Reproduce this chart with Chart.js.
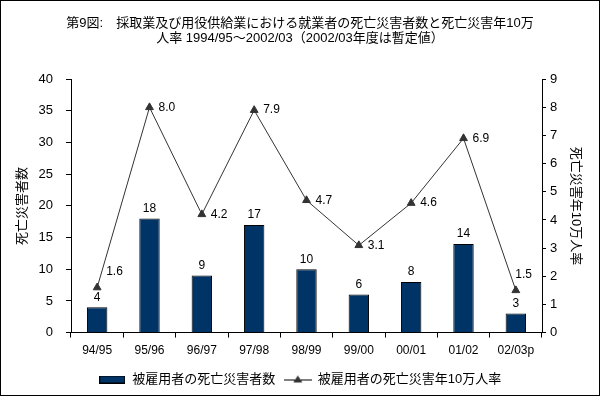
<!DOCTYPE html>
<html>
<head>
<meta charset="utf-8">
<script src="https://cdn.jsdelivr.net/npm/chart.js@4"></script>
<style>
html,body{margin:0;padding:0;background:#fff}
#wrap{width:600px;height:396px}
</style>
</head>
<body>
<div id="wrap"><canvas id="myChart" width="600" height="396"></canvas></div>
<script>
var nendo = ['94/95','95/96','96/97','97/98','98/99','99/00','00/01','01/02','02/03p']
var shibousha = [4,18,9,17,10,6,8,14,3]
var ritsu = [1.6,8.0,4.2,7.9,4.7,3.1,4.6,6.9,1.5]
var titleLines = ['第9図:　採取業及び用役供給業における就業者の死亡災害者数と死亡災害年10万','人率 1994/95～2002/03（2002/03年度は暫定値）']
var fnt = '"Liberation Sans", "Noto Sans CJK JP", sans-serif'

function mkBox(){
    var c = document.createElement('canvas')
    c.width = 26; c.height = 8
    var g = c.getContext('2d')
    g.fillStyle = '#000'
    g.fillRect(0,0,26,8)
    g.fillStyle = '#003366'
    g.fillRect(1,1,24,6)
    return c
}
function mkTri(){
    var c = document.createElement('canvas')
    c.width = 28; c.height = 10
    var g = c.getContext('2d')
    g.strokeStyle = '#000'
    g.lineWidth = 1
    g.beginPath(); g.moveTo(0,5.5); g.lineTo(28,5.5); g.stroke()
    g.fillStyle = '#333'
    g.beginPath(); g.moveTo(14,1); g.lineTo(18.5,8); g.lineTo(9.5,8); g.closePath(); g.fill()
    return c
}
var boxImg = mkBox()
var triImg = mkTri()

// ラベル: 棒の上に件数、折れ線の点の右に率
var etiketa = {
    id:'etiketa',
    afterDatasetsDraw: function(chart){
        var ctx = chart.ctx
        var area = chart.chartArea
        ctx.save()
        ctx.font = '12px ' + fnt
        ctx.fillStyle = '#000'
        ctx.textBaseline = 'middle'
        var bars = chart.getDatasetMeta(0).data
        var pts = chart.getDatasetMeta(1).data
        for(var i=0;i<bars.length;i++){
            var by = bars[i].y - 10
            ctx.textAlign = 'center'
            ctx.fillText(String(shibousha[i]), bars[i].x, by)
            var py = pts[i].y
            var ly = py
            var lx = pts[i].x + 9
            var txt = ritsu[i].toFixed(1)
            var w = ctx.measureText(txt).width
            if(Math.abs(py - by) < 20){
                ly = py - 16
                if(lx + w > area.right - 10) lx = area.right - 10 - w
            }
            ctx.textAlign = 'left'
            ctx.fillText(txt, lx, ly)
        }
        ctx.restore()
    }
}
var waku = {
    id:'waku',
    afterDraw: function(chart){
        var ctx = chart.ctx
        ctx.save()
        ctx.strokeStyle = '#000'
        ctx.lineWidth = 1
        ctx.strokeRect(0.5,0.5,chart.width-1,chart.height-1)
        ctx.restore()
    }
}

var ctx = document.getElementById('myChart')
var char = new Chart(ctx, {
  type: 'bar',
  data: {
    labels: nendo,
    datasets: [{
      type: 'bar',
      label: '被雇用者の死亡災害者数',
      data: shibousha,
      backgroundColor: '#003366',
      borderColor: '#000',
      borderWidth: 1,
      barPercentage: 0.39,
      categoryPercentage: 1,
      yAxisID: 'y',
      order: 2
    },{
      type: 'line',
      label: '被雇用者の死亡災害年10万人率',
      data: ritsu,
      borderColor: '#333',
      borderWidth: 1,
      pointStyle: 'triangle',
      pointRadius: 4.5,
      pointBackgroundColor: '#333',
      pointBorderColor: '#333',
      tension: 0,
      yAxisID: 'y1',
      order: 1
    }]
  },
  options: {
    responsive: false,
    animation: false,
    layout: { padding: { left: 0, right: 0, top: 0, bottom: 0 } },
    scales: {
      x: {
        grid: { display: true, drawOnChartArea: false, color: '#000', tickLength: 5, offset: true },
        border: { color: '#000' },
        ticks: { color: '#000', font: { family: fnt, size: 12 }, padding: 6, maxRotation: 0 }
      },
      y: {
        position: 'left',
        min: 0, max: 40,
        afterFit: function(s){ s.width = 71 },
        grid: { drawOnChartArea: false, color: '#000', tickLength: 5 },
        border: { color: '#000' },
        ticks: { stepSize: 5, color: '#000', font: { family: fnt, size: 13 }, padding: 13 },
        title: { display: true, text: '死亡災害者数', color: '#000', font: { family: fnt, size: 13 }, padding: { top: 15, bottom: 0 } }
      },
      y1: {
        position: 'right',
        min: 0, max: 9,
        afterFit: function(s){ s.width = 58 },
        grid: { drawOnChartArea: false, color: '#000', tickLength: 4 },
        border: { color: '#000' },
        ticks: { stepSize: 1, color: '#000', font: { family: fnt, size: 13 }, padding: 4 },
        title: { display: true, text: '死亡災害年10万人率', color: '#000', font: { family: fnt, size: 13 }, padding: { top: 17, bottom: 0 } }
      }
    },
    plugins: {
      title: {
        display: true,
        text: titleLines,
        color: '#000',
        font: { family: fnt, size: 13, weight: 'normal', lineHeight: 1.15 },
        padding: { top: 16, bottom: 33.3 }
      },
      legend: {
        display: true,
        position: 'bottom',
        labels: {
          color: '#000',
          font: { family: fnt, size: 13 },
          usePointStyle: true,
          pointStyleWidth: 27,
          boxHeight: 8,
          padding: 9,
          generateLabels: function(chart){
            return chart.data.datasets.map(function(ds, i){
              return { text: ds.label, pointStyle: i==0 ? boxImg : triImg, datasetIndex: i, fontColor: '#000', lineWidth: 0, strokeStyle: 'rgba(0,0,0,0)', fillStyle: 'rgba(0,0,0,0)' }
            })
          }
        }
      },
      tooltip: { enabled: false }
    }
  },
  plugins: [etiketa, waku]
});
</script>
</body>
</html>
